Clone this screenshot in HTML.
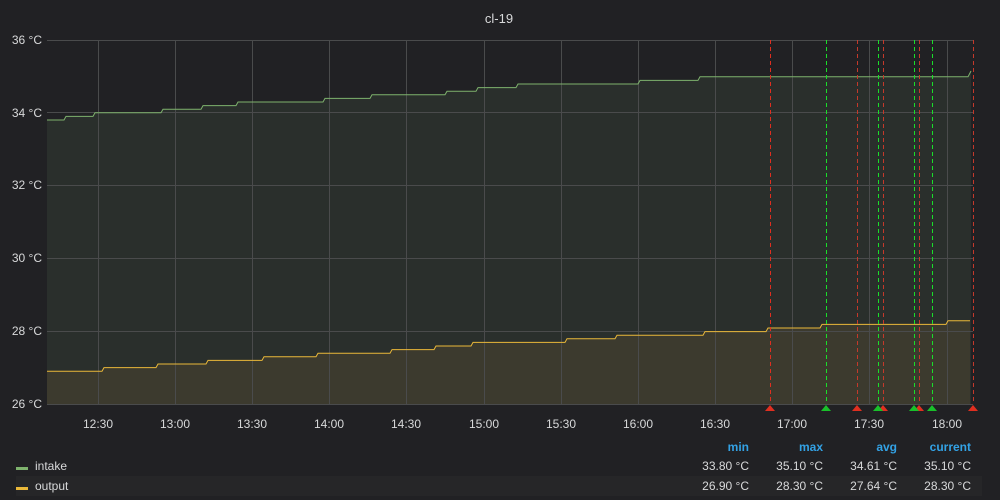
<!DOCTYPE html>
<html><head><meta charset="utf-8"><style>
body{margin:0;background:#212124;}
svg{display:block;font-family:"Liberation Sans","DejaVu Sans",sans-serif;}
</style></head><body>
<svg width="1000" height="500" viewBox="0 0 1000 500">
<rect width="1000" height="500" fill="#212124"/>
<text x="499" y="23" fill="#d8d9da" font-size="13" text-anchor="middle">cl-19</text>
<path d="M47,120 L64,120 L66,116.4 L93,116.4 L95,112.8 L161,112.8 L163,109.2 L201,109.2 L203,105.6 L236,105.6 L238,102 L323,102 L325,98.4 L370,98.4 L372,94.8 L445,94.8 L447,91.2 L476,91.2 L478,87.6 L516,87.6 L518,84 L638,84 L640,80.4 L698,80.4 L700,76.8 L968,76.8 L971,71 L971,404 L47,404 Z" fill="#2a2f2c"/>
<path d="M47,371.2 L102,371.2 L104,367.6 L156,367.6 L158,364 L206,364 L208,360.4 L262,360.4 L264,356.8 L316,356.8 L318,353.2 L390,353.2 L392,349.6 L434,349.6 L436,346 L471,346 L473,342.4 L565,342.4 L567,338.8 L615,338.8 L617,335.2 L703,335.2 L705,331.6 L766,331.6 L768,328 L820,328 L822,324.4 L946,324.4 L948,320.8 L970,320.8 L970,404 L47,404 Z" fill="#3c3a2e"/>
<g stroke="#4a4b4c" stroke-width="1">
<line x1="47" y1="40.5" x2="973" y2="40.5"/><line x1="47" y1="112.5" x2="973" y2="112.5"/><line x1="47" y1="185.5" x2="973" y2="185.5"/><line x1="47" y1="258.5" x2="973" y2="258.5"/><line x1="47" y1="331.5" x2="973" y2="331.5"/><line x1="47" y1="404.5" x2="973" y2="404.5"/>
<line x1="98.5" y1="40" x2="98.5" y2="404"/><line x1="175.5" y1="40" x2="175.5" y2="404"/><line x1="252.5" y1="40" x2="252.5" y2="404"/><line x1="329.5" y1="40" x2="329.5" y2="404"/><line x1="406.5" y1="40" x2="406.5" y2="404"/><line x1="484.5" y1="40" x2="484.5" y2="404"/><line x1="561.5" y1="40" x2="561.5" y2="404"/><line x1="638.5" y1="40" x2="638.5" y2="404"/><line x1="715.5" y1="40" x2="715.5" y2="404"/><line x1="792.5" y1="40" x2="792.5" y2="404"/><line x1="869.5" y1="40" x2="869.5" y2="404"/><line x1="947.5" y1="40" x2="947.5" y2="404"/>
</g>
<path d="M47,120 L64,120 L66,116.4 L93,116.4 L95,112.8 L161,112.8 L163,109.2 L201,109.2 L203,105.6 L236,105.6 L238,102 L323,102 L325,98.4 L370,98.4 L372,94.8 L445,94.8 L447,91.2 L476,91.2 L478,87.6 L516,87.6 L518,84 L638,84 L640,80.4 L698,80.4 L700,76.8 L968,76.8 L971,71" fill="none" stroke="#7eb26d" stroke-width="1"/>
<path d="M47,371.2 L102,371.2 L104,367.6 L156,367.6 L158,364 L206,364 L208,360.4 L262,360.4 L264,356.8 L316,356.8 L318,353.2 L390,353.2 L392,349.6 L434,349.6 L436,346 L471,346 L473,342.4 L565,342.4 L567,338.8 L615,338.8 L617,335.2 L703,335.2 L705,331.6 L766,331.6 L768,328 L820,328 L822,324.4 L946,324.4 L948,320.8 L970,320.8" fill="none" stroke="#eab839" stroke-width="1"/>
<g stroke-width="1" stroke-dasharray="4,3">
<line x1="770.5" y1="40" x2="770.5" y2="404" stroke="#e02f20"/>
<line x1="857.5" y1="40" x2="857.5" y2="404" stroke="#c4392b"/>
<line x1="883.5" y1="40" x2="883.5" y2="404" stroke="#c4392b"/>
<line x1="919.5" y1="40" x2="919.5" y2="404" stroke="#c4392b"/>
<line x1="973.5" y1="40" x2="973.5" y2="404" stroke="#c4392b"/>
<line x1="826.5" y1="40" x2="826.5" y2="404" stroke="#19e02a"/>
<line x1="878.5" y1="40" x2="878.5" y2="404" stroke="#19e02a"/>
<line x1="914.5" y1="40" x2="914.5" y2="404" stroke="#19e02a"/>
<line x1="932.5" y1="40" x2="932.5" y2="404" stroke="#19e02a"/>
</g>
<g>
<path d="M765,411 L770,405 L775,411Z" fill="#e02f20"/>
<path d="M852,411 L857,405 L862,411Z" fill="#e02f20"/>
<path d="M878,411 L883,405 L888,411Z" fill="#e02f20"/>
<path d="M914,411 L919,405 L924,411Z" fill="#e02f20"/>
<path d="M968,411 L973,405 L978,411Z" fill="#e02f20"/>
<path d="M821,411 L826,405 L831,411Z" fill="#19c02a"/>
<path d="M873,411 L878,405 L883,411Z" fill="#19c02a"/>
<path d="M909,411 L914,405 L919,411Z" fill="#19c02a"/>
<path d="M927,411 L932,405 L937,411Z" fill="#19c02a"/>
</g>
<g fill="#d8d9da" font-size="12" text-anchor="end">
<text x="42" y="44">36 °C</text><text x="42" y="117">34 °C</text><text x="42" y="189">32 °C</text><text x="42" y="262">30 °C</text><text x="42" y="335">28 °C</text><text x="42" y="408">26 °C</text>
</g>
<g fill="#d8d9da" font-size="12" text-anchor="middle">
<text x="98" y="428">12:30</text><text x="175" y="428">13:00</text><text x="252" y="428">13:30</text><text x="329" y="428">14:00</text><text x="406" y="428">14:30</text><text x="484" y="428">15:00</text><text x="561" y="428">15:30</text><text x="638" y="428">16:00</text><text x="715" y="428">16:30</text><text x="792" y="428">17:00</text><text x="869" y="428">17:30</text><text x="947" y="428">18:00</text>
</g>
<rect x="16" y="476" width="966" height="20" fill="#262628"/>
<g font-size="12" font-weight="bold" fill="#33a2e5" text-anchor="end">
<text x="749" y="451">min</text><text x="823" y="451">max</text><text x="897" y="451">avg</text><text x="971" y="451">current</text>
</g>
<rect x="16" y="467" width="12" height="3" fill="#7eb26d"/>
<rect x="16" y="487" width="12" height="3" fill="#eab839"/>
<g font-size="12" fill="#d8d9da">
<text x="35" y="470">intake</text><text x="35" y="490">output</text>
</g>
<g font-size="12" fill="#d8d9da" text-anchor="end">
<text x="749" y="470">33.80 °C</text><text x="823" y="470">35.10 °C</text><text x="897" y="470">34.61 °C</text><text x="971" y="470">35.10 °C</text>
<text x="749" y="490">26.90 °C</text><text x="823" y="490">28.30 °C</text><text x="897" y="490">27.64 °C</text><text x="971" y="490">28.30 °C</text>
</g>
</svg>
</body></html>
